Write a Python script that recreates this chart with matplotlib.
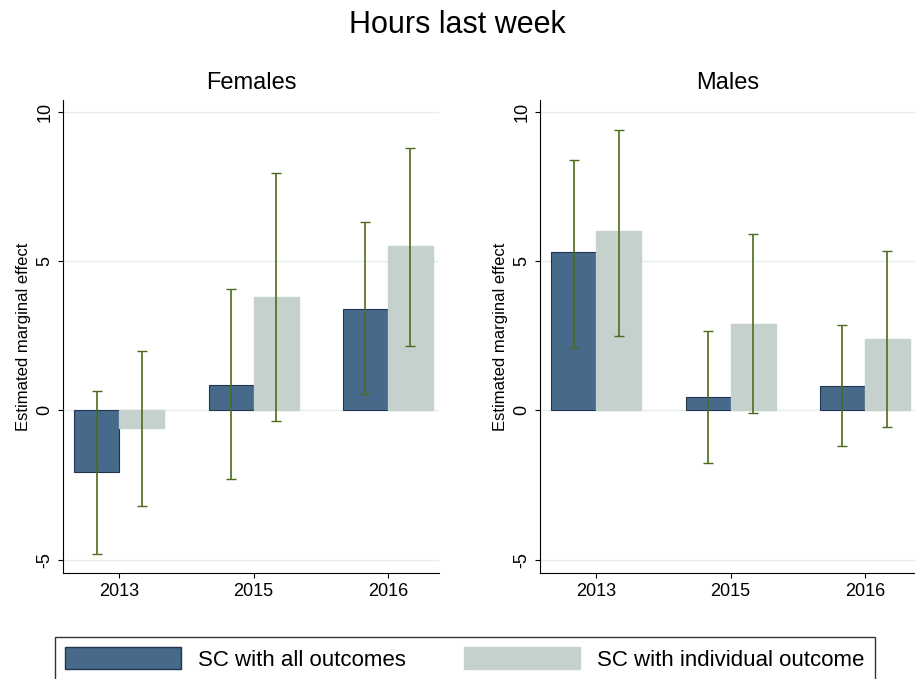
import numpy as np
import matplotlib
matplotlib.use("Agg")
import matplotlib.pyplot as plt
from matplotlib.patches import Patch

years = ["2013", "2015", "2016"]
# Females
f_all = [-2.05, 0.85, 3.4]
f_all_lo = [-4.8, -2.3, 0.55]
f_all_hi = [0.65, 4.05, 6.3]
f_ind = [-0.6, 3.8, 5.5]
f_ind_lo = [-3.2, -0.35, 2.15]
f_ind_hi = [2.0, 7.95, 8.8]
# Males
m_all = [5.3, 0.45, 0.8]
m_all_lo = [2.1, -1.75, -1.2]
m_all_hi = [8.4, 2.65, 2.85]
m_ind = [6.0, 2.9, 2.4]
m_ind_lo = [2.5, -0.1, -0.55]
m_ind_hi = [9.4, 5.9, 5.35]

dark = "#476a8b"
light = "#c5d1cd"
ecol = "#4d6b1e"
plt.rcParams["font.family"] = "Liberation Sans"

fig = plt.figure(figsize=(9.15, 6.79), dpi=100)
fig.suptitle("Hours last week", fontsize=22, y=0.985)

panels = [("Females", f_all, f_all_lo, f_all_hi, f_ind, f_ind_lo, f_ind_hi, 63),
          ("Males", m_all, m_all_lo, m_all_hi, m_ind, m_ind_lo, m_ind_hi, 540)]
x = np.arange(len(years))
w = 0.335
for title, a, alo, ahi, b, blo, bhi, left in panels:
    ax = fig.add_axes([left / 915, 1 - 573 / 679, 376 / 915, 473 / 679])
    ax.bar(x - w / 2, a, w, color=dark, edgecolor="#1f3550", linewidth=0.8, zorder=2)
    ax.bar(x + w / 2, b, w, color=light, edgecolor=light, zorder=2)
    a = np.array(a); b = np.array(b)
    ax.errorbar(x - w / 2, a, yerr=[a - np.array(alo), np.array(ahi) - a], fmt="none",
                ecolor=ecol, elinewidth=1.2, capsize=3.5, zorder=3)
    ax.errorbar(x + w / 2, b, yerr=[b - np.array(blo), np.array(bhi) - b], fmt="none",
                ecolor=ecol, elinewidth=1.2, capsize=3.5, zorder=3)
    ax.set_xlim(-0.42, 2.38)
    ax.set_ylim(-5.45, 10.4)
    ax.set_yticks([-5, 0, 5, 10])
    ax.set_yticklabels(["-5", "0", "5", "10"], rotation=90, va="center", fontsize=13)
    ax.set_xticks(x)
    ax.set_xticklabels(years, fontsize=13)
    ax.grid(axis="y", color="#e6ecec", linewidth=1, zorder=0)
    ax.set_axisbelow(True)
    for s in ["top", "right"]:
        ax.spines[s].set_visible(False)
    ax.set_ylabel("Estimated marginal effect", fontsize=12)
    ax.set_title(title, fontsize=17, pad=8)

handles = [Patch(facecolor=dark, edgecolor="#1f3550"), Patch(facecolor=light, edgecolor=light)]
leg = fig.legend(handles, ["SC with all outcomes", "SC with individual outcome"],
                 loc="lower center", bbox_to_anchor=(0.508, -0.022), ncol=2, fontsize=16,
                 fancybox=False, edgecolor="black", handlelength=5.2, handleheight=1.2,
                 columnspacing=2.6, borderpad=0.45, borderaxespad=0.6)
leg.get_frame().set_linewidth(1)
fig.savefig("out.png", dpi=100)
